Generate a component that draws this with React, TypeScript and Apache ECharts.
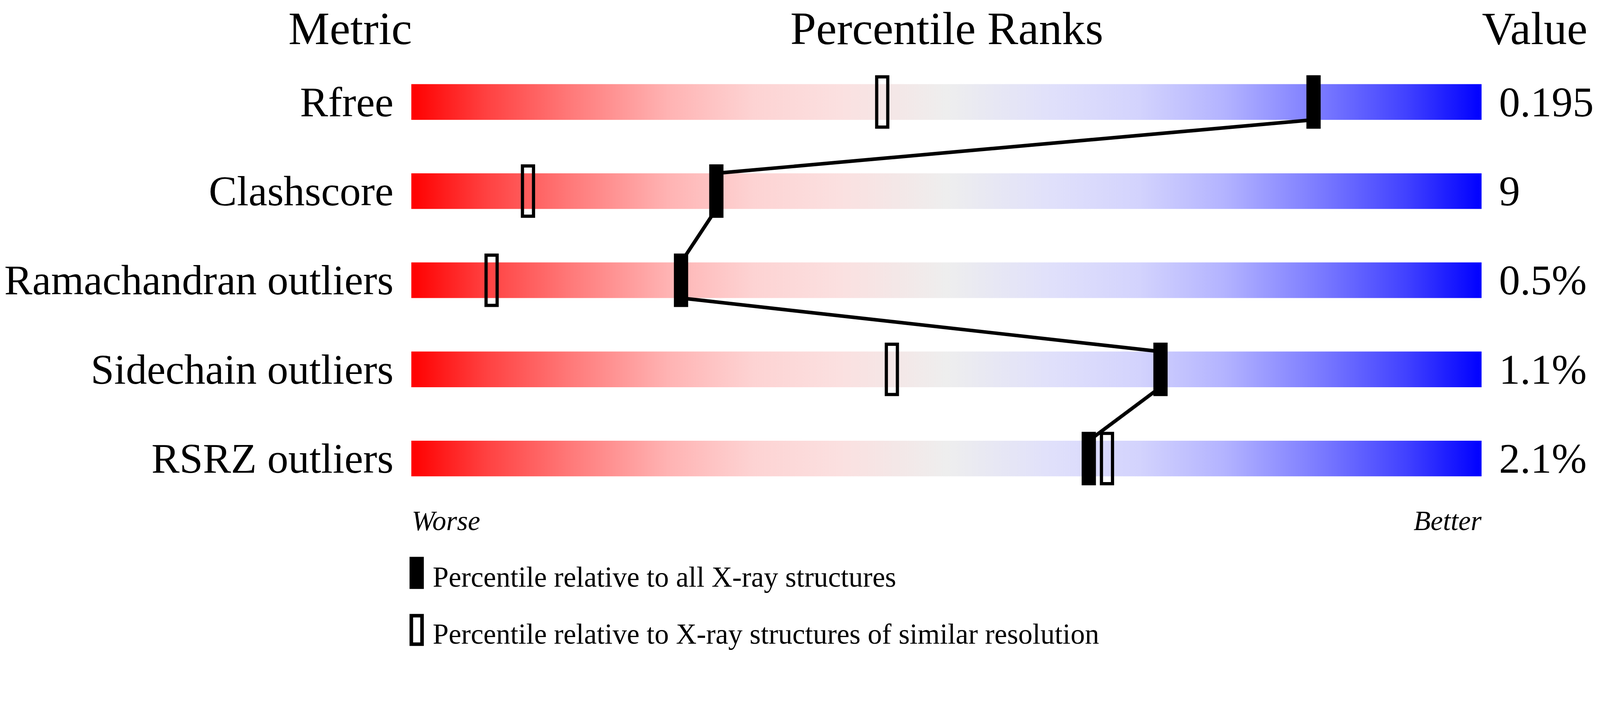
import { useEffect, useRef, useState } from "react";
import * as echarts from "echarts";

type EChartsOption = echarts.EChartsOption;

const metrics = [
  "Rfree",
  "Clashscore",
  "Ramachandran outliers",
  "Sidechain outliers",
  "RSRZ outliers",
];
const metricValues = ["0.195", "9", "0.5%", "1.1%", "2.1%"];
// percentile relative to all X-ray structures (filled marker)
const percentileAll = [84.3, 28.5, 25.2, 70.0, 63.3];
// percentile relative to structures of similar resolution (open marker)
const percentileSimilar = [44.0, 10.9, 7.5, 44.9, 65.0];
// every slider runs over the full 0-100 percentile range
const barExtent = [100, 100, 100, 100, 100];
const headers = ["Metric", "Percentile Ranks", "Value"];
const scaleEnds = ["Worse", "Better"];
const legendLabels = [
  "Percentile relative to all X-ray structures",
  "Percentile relative to X-ray structures of similar resolution",
];

// layout in reference pixels (4485 x 1824), scaled to the viewport below
const W = 4485;
const H = 1824;
const FONT = "'Liberation Serif', 'DejaVu Serif', serif";

// red -> light grey -> blue
const gradientStops = [
  { offset: 0, color: "#ff0000" },
  { offset: 0.07, color: "#ff4141" },
  { offset: 0.15, color: "#ff7a7a" },
  { offset: 0.24, color: "#ffb3b3" },
  { offset: 0.32, color: "#fdd3d3" },
  { offset: 0.4, color: "#fbe0e0" },
  { offset: 0.46, color: "#f3e8e8" },
  { offset: 0.5, color: "#eeeeee" },
  { offset: 0.54, color: "#e8e8f3" },
  { offset: 0.6, color: "#e0e0fb" },
  { offset: 0.68, color: "#d3d3fd" },
  { offset: 0.76, color: "#b3b3ff" },
  { offset: 0.85, color: "#7a7aff" },
  { offset: 0.93, color: "#4141ff" },
  { offset: 1, color: "#0000ff" },
];

export default function App() {
  const chartRef = useRef<HTMLDivElement>(null);
  const [k] = useState(() => window.innerWidth / W);

  useEffect(() => {
    if (!chartRef.current) return;
    document.body.style.margin = "0";
    document.body.style.overflow = "hidden";

    const s = (v: number) => v * k;
    const BAR_H = s(100);

    const chart = echarts.init(chartRef.current, null, { renderer: "svg" });

    // segments join the filled markers: bottom of one bar to top of the next
    const linkData = percentileAll.slice(0, -1).map((p, i) => [
      p,
      i,
      percentileAll[i + 1],
      i + 1,
    ]);

    const marker = (w: number, h: number, filled: boolean) =>
      (_params: any, api: any) => {
        const c = api.coord([api.value(0), api.value(1)]);
        return {
          type: "rect",
          shape: { x: c[0] - w / 2, y: c[1] - h / 2, width: w, height: h },
          style: filled
            ? { fill: "#000" }
            : { fill: "none", stroke: "#000", lineWidth: s(9) },
        };
      };

    const text = (
      str: string,
      x: number,
      y: number,
      size: number,
      align: string,
      italic = false
    ) => ({
      type: "text",
      silent: true,
      style: {
        text: str,
        x: s(x),
        y: s(y),
        fill: "#000",
        fontSize: s(size),
        fontFamily: FONT,
        fontStyle: italic ? "italic" : "normal",
        align,
        verticalAlign: "middle",
      },
    });

    const option: EChartsOption = {
      animation: false,
      backgroundColor: "#ffffff",
      grid: {
        left: s(1153),
        right: s(332),
        top: s(161),
        bottom: s(413),
      },
      xAxis: {
        type: "value",
        min: 0,
        max: 100,
        show: false,
      },
      yAxis: [
        {
          type: "category",
          data: metrics,
          inverse: true,
          axisLine: { show: false },
          axisTick: { show: false },
          splitLine: { show: false },
          axisLabel: {
            interval: 0,
            margin: s(50),
            color: "#000",
            fontSize: s(118),
            fontFamily: FONT,
            padding: [s(20), 0, 0, 0],
          },
        },
        {
          type: "category",
          data: metricValues,
          inverse: true,
          position: "right",
          axisLine: { show: false },
          axisTick: { show: false },
          splitLine: { show: false },
          axisLabel: {
            interval: 0,
            margin: s(49),
            color: "#000",
            fontSize: s(118),
            fontFamily: FONT,
            align: "left",
            padding: [s(20), 0, 0, 0],
          },
        },
      ],
      series: [
        {
          type: "bar",
          data: barExtent,
          barWidth: BAR_H,
          silent: true,
          z: 1,
          itemStyle: {
            color: new echarts.graphic.LinearGradient(0, 0, 1, 0, gradientStops),
          },
        },
        {
          type: "custom",
          data: linkData,
          silent: true,
          z: 3,
          encode: { x: [0, 2], y: [1, 3] },
          renderItem: (_params: any, api: any) => {
            const a = api.coord([api.value(0), api.value(1)]);
            const b = api.coord([api.value(2), api.value(3)]);
            return {
              type: "line",
              shape: {
                x1: a[0],
                y1: a[1] + BAR_H / 2,
                x2: b[0],
                y2: b[1] - BAR_H / 2,
              },
              style: { stroke: "#000", lineWidth: s(10) },
            };
          },
        },
        {
          name: legendLabels[1],
          type: "custom",
          data: percentileSimilar.map((p, i) => [p, i]),
          silent: true,
          z: 4,
          encode: { x: 0, y: 1 },
          renderItem: marker(s(31), s(141), false),
        },
        {
          name: legendLabels[0],
          type: "custom",
          data: percentileAll.map((p, i) => [p, i]),
          silent: true,
          z: 5,
          encode: { x: 0, y: 1 },
          renderItem: marker(s(40), s(150), true),
        },
      ],
      graphic: [
        text(headers[0], 1155, 80, 130, "right"),
        text(headers[1], 2654, 80, 130, "center"),
        text(headers[2], 4154, 80, 130, "left"),
        text(scaleEnds[0], 1154, 1461, 78, "left", true),
        text(scaleEnds[1], 4153, 1461, 78, "right", true),
        {
          type: "rect",
          silent: true,
          shape: { x: s(1148), y: s(1562), width: s(40), height: s(90) },
          style: { fill: "#000" },
        },
        text(legendLabels[0], 1213, 1619, 80, "left"),
        {
          type: "rect",
          silent: true,
          shape: { x: s(1153), y: s(1727), width: s(30), height: s(80) },
          style: { fill: "none", stroke: "#000", lineWidth: s(10) },
        },
        text(legendLabels[1], 1213, 1779, 80, "left"),
      ] as any,
    };

    chart.setOption(option);

    return () => {
      chart.dispose();
    };
  }, [k]);

  return <div ref={chartRef} style={{ width: W * k, height: H * k }} />;
}
